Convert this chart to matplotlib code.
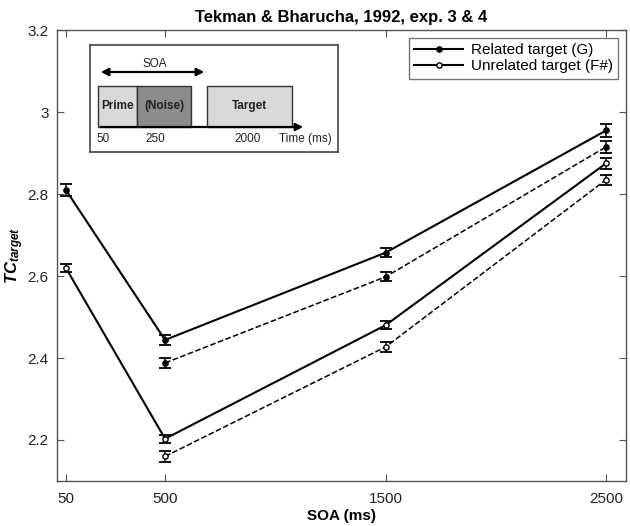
import matplotlib
matplotlib.use('Agg')
import matplotlib.pyplot as plt
from matplotlib.patches import Rectangle

plt.rcParams['font.family'] = ['Liberation Sans', 'DejaVu Sans']
plt.rcParams['mathtext.fontset'] = 'custom'
plt.rcParams['mathtext.rm'] = 'Liberation Sans'
plt.rcParams['mathtext.it'] = 'Liberation Sans:italic'
plt.rcParams['mathtext.bf'] = 'Liberation Sans:bold'
plt.rcParams['mathtext.bfit'] = 'Liberation Sans:italic:bold'

# SOA values (ms)
soa = [50, 500, 1500, 2500]
soa_noise = [500, 1500, 2500]

# without noise (solid lines)
rel = [2.81, 2.444, 2.657, 2.955]
rel_err = [0.015, 0.012, 0.011, 0.015]
unrel = [2.62, 2.203, 2.48, 2.875]
unrel_err = [0.01, 0.01, 0.01, 0.013]

# with noise (dashed lines)
rel_n = [2.388, 2.598, 2.915]
rel_n_err = [0.012, 0.011, 0.015]
unrel_n = [2.16, 2.427, 2.835]
unrel_n_err = [0.014, 0.012, 0.012]

yticks = [2.2, 2.4, 2.6, 2.8, 3.0, 3.2]
ytick_labels = ['2.2', '2.4', '2.6', '2.8', '3', '3.2']

fig = plt.figure(figsize=(6.3, 5.26), dpi=100)
ax = fig.add_axes([57/630, 1 - 481/526, 569/630, 451/526])

kw = dict(color='black', ms=3.8, capsize=4, elinewidth=1.1, capthick=1.3)
l1 = ax.errorbar(soa, rel, yerr=rel_err, fmt='-o', lw=1.5, mfc='black', mec='black', **kw)
l2 = ax.errorbar(soa, unrel, yerr=unrel_err, fmt='-o', lw=1.5, mfc='white', mec='black', **kw)
ax.errorbar(soa_noise, rel_n, yerr=rel_n_err, fmt='--o', lw=1.1, mfc='black', mec='black', **kw)
ax.errorbar(soa_noise, unrel_n, yerr=unrel_n_err, fmt='--o', lw=1.1, mfc='white', mec='black', **kw)

ax.set_xlim(10, 2590)
ax.set_ylim(2.1, 3.2)
ax.set_xticks(soa)
ax.set_xticklabels([str(s) for s in soa])
ax.set_yticks(yticks)
ax.set_yticklabels(ytick_labels)
ax.tick_params(direction='in', top=True, right=True, length=5, width=0.8,
               color='#555555', labelsize=11, labelcolor='#222222')
ax.tick_params(axis='x', pad=8)
ax.tick_params(axis='y', pad=6)
for s in ax.spines.values():
    s.set_color('#555555')
    s.set_linewidth(1)

ax.set_title('Tekman & Bharucha, 1992, exp. 3 & 4', fontsize=12, fontweight='bold', pad=6)
ax.set_xlabel('SOA (ms)', fontsize=11, fontweight='bold', labelpad=2)
ax.set_ylabel(r'$\mathbfit{TC}_{\mathbfit{target}}$', fontsize=12, labelpad=1)

leg = ax.legend([l1.lines[0], l2.lines[0]], ['Related target (G)', 'Unrelated target (F#)'],
                loc='upper right', fontsize=11, handlelength=3.2, frameon=True, fancybox=False,
                borderaxespad=0.5, borderpad=0.35, labelspacing=0.15, handletextpad=0.5)
leg.get_frame().set_edgecolor('#555555')
leg.get_frame().set_linewidth(1)

# stimulus schematic inset (pixel-like coordinates)
ins = fig.add_axes([90/630, 1 - 152/526, 248/630, 107/526])
ins.set_xlim(90, 338)
ins.set_ylim(152, 45)
ins.set_xticks([])
ins.set_yticks([])
for s in ins.spines.values():
    s.set_color('#444444')
    s.set_linewidth(1.2)

ins.add_patch(Rectangle((98, 86), 39, 41, fc='#d9d9d9', ec='#333333', lw=1))
ins.add_patch(Rectangle((137, 86), 54, 41, fc='#8c8c8c', ec='#333333', lw=1))
ins.add_patch(Rectangle((207, 86), 85, 41, fc='#d9d9d9', ec='#333333', lw=1))
ins.text(117.5, 106, 'Prime', ha='center', va='center', fontsize=8.5, fontweight='bold', color='#222222')
ins.text(164, 106, '(Noise)', ha='center', va='center', fontsize=8.5, fontweight='bold', color='#222222')
ins.text(249.5, 106, 'Target', ha='center', va='center', fontsize=8.5, fontweight='bold', color='#222222')

ins.annotate('', xy=(207, 72), xytext=(98, 72),
             arrowprops=dict(arrowstyle='<|-|>', color='black', lw=1.6, mutation_scale=11))
ins.text(155, 64, 'SOA', ha='center', va='center', fontsize=8.5, color='#222222')

ins.annotate('', xy=(306, 127), xytext=(98, 127),
             arrowprops=dict(arrowstyle='-|>', color='black', lw=1.6, mutation_scale=11))
ins.text(96, 139, '50', ha='left', va='center', fontsize=8.5, color='#222222')
ins.text(155, 139, '250', ha='center', va='center', fontsize=8.5, color='#222222')
ins.text(248, 139, '2000', ha='center', va='center', fontsize=8.5, color='#222222')
ins.text(279, 139, 'Time (ms)', ha='left', va='center', fontsize=8.5, color='#222222')

fig.savefig('out.png', dpi=100)
